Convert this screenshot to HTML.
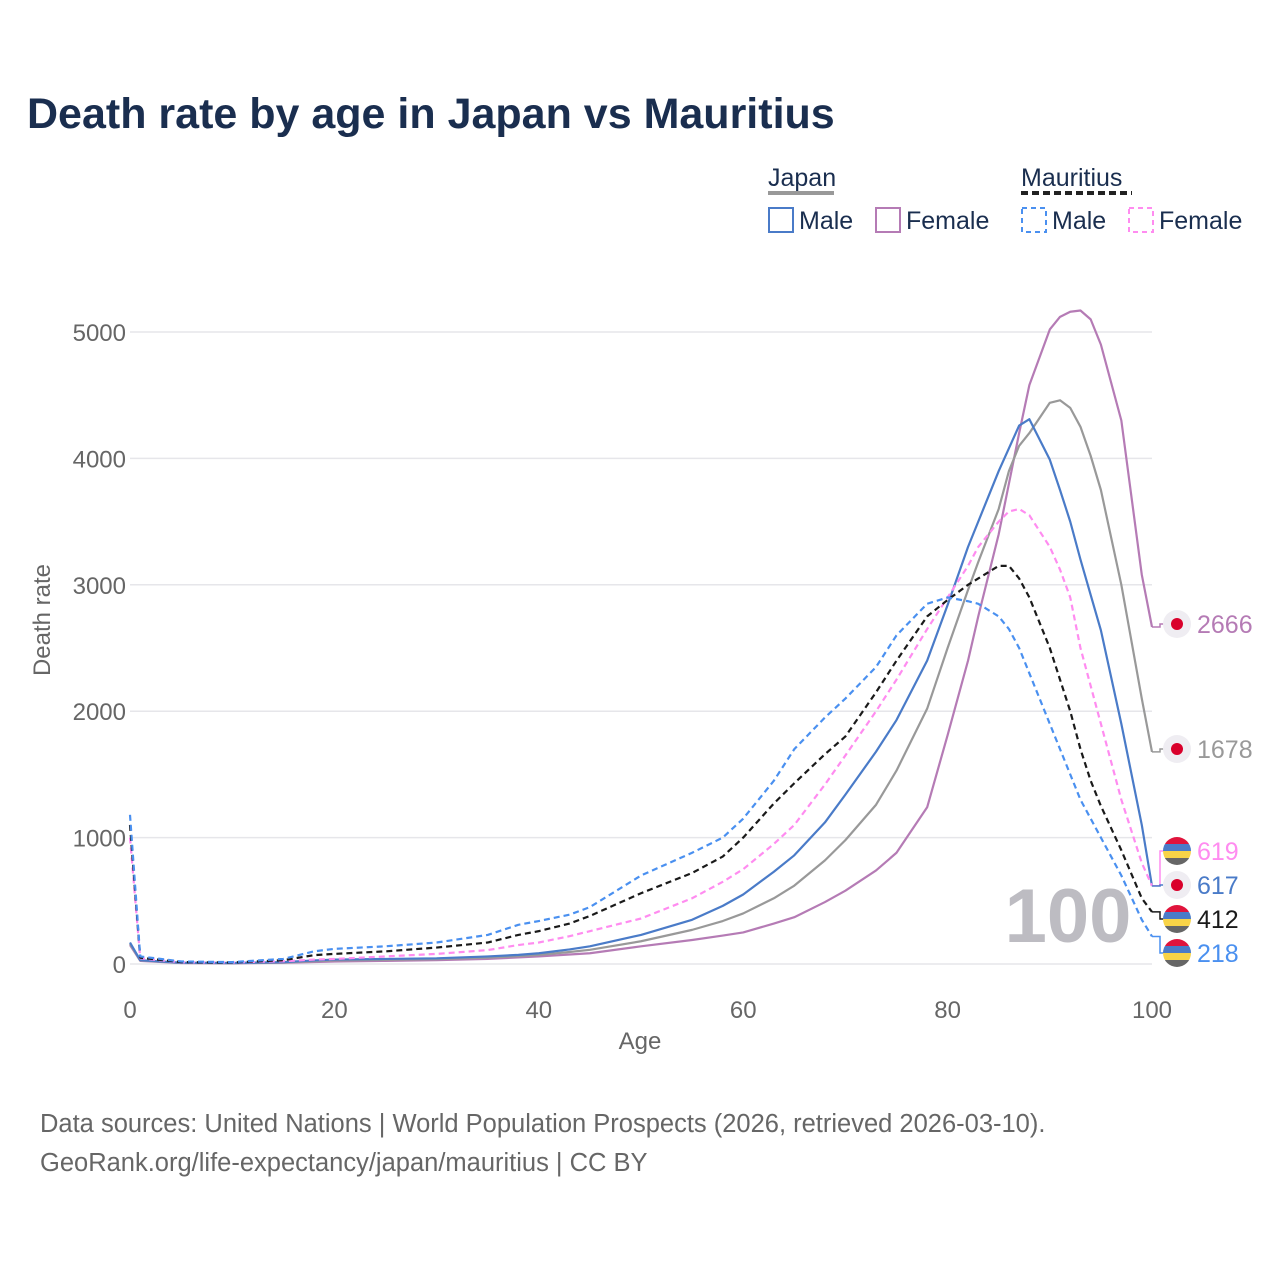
<!DOCTYPE html>
<html><head><meta charset="utf-8">
<style>
body{margin:0;background:#fff;font-family:"Liberation Sans",sans-serif;}
#wrap{position:relative;width:1280px;height:1280px;overflow:hidden;}
.t{position:absolute;white-space:nowrap;}
</style></head>
<body>
<div id="wrap">
<div class="t" style="left:27px;top:90px;font-size:43px;font-weight:bold;color:#1a2e4f;">Death rate by age in Japan vs Mauritius</div>
<svg id="chart" width="1280" height="1280" style="position:absolute;left:0;top:0"></svg>
<div class="t" style="left:40px;top:1105px;font-size:25.5px;color:#666;line-height:39px;">Data sources: United Nations | World Population Prospects (2026, retrieved 2026-03-10).<br>GeoRank.org/life-expectancy/japan/mauritius | CC BY</div>
</div>
<script>
const ages = [0,1,5,10,15,18,20,25,30,35,38,40,43,45,50,55,58,60,63,65,68,70,73,75,78,80,82,83,85,86,87,88,90,91,92,93,94,95,97,99,100];
const japanMale =   [170,30,10,8,15,28,35,40,45,60,72,85,115,140,230,350,460,550,730,860,1120,1340,1680,1930,2400,2840,3300,3500,3900,4080,4260,4310,3990,3750,3500,3200,2920,2640,1900,1100,617];
const japanFemale = [150,25,8,6,10,16,20,25,30,40,52,60,75,85,140,190,225,250,320,370,490,580,740,880,1240,1810,2400,2750,3400,3800,4200,4580,5020,5120,5160,5170,5100,4900,4300,3080,2666];
const japanTotal =  [160,28,9,7,12,22,28,33,38,50,62,72,95,112,180,270,340,400,520,620,820,980,1260,1530,2020,2500,2960,3180,3600,3900,4100,4200,4440,4460,4400,4250,4020,3750,3000,2100,1678];
const mauMale =     [1180,60,20,15,40,100,120,140,170,230,310,340,390,450,700,880,1000,1150,1450,1700,1950,2100,2350,2600,2850,2900,2870,2850,2750,2650,2500,2300,1900,1700,1500,1300,1150,1000,700,350,218];
const mauTotal =    [1100,50,15,12,30,70,80,100,130,170,230,260,320,380,560,720,850,1000,1270,1430,1660,1800,2150,2400,2750,2880,3000,3050,3150,3150,3050,2900,2500,2250,2000,1700,1450,1250,900,520,412];
const mauFemale =   [1000,45,14,12,22,35,40,60,80,110,150,170,220,260,360,520,650,750,950,1100,1420,1650,2000,2250,2650,2900,3150,3300,3500,3580,3600,3550,3300,3120,2900,2500,2200,1900,1300,800,619];
const yTicks = [0,1000,2000,3000,4000,5000];
const xTicks = [0,20,40,60,80,100];
const endLabels = ["2666","1678","619","617","412","218"];

const X = a => 130 + a*10.22;
const Y = v => 964 - v*0.1264;
const svg = document.getElementById('chart');
const NS='http://www.w3.org/2000/svg';
function mk(tag, attrs){const e=document.createElementNS(NS,tag);for(const k in attrs)e.setAttribute(k,attrs[k]);svg.appendChild(e);return e;}

yTicks.forEach(v=>{
  const g=mk('line',{x1:130,x2:1152,y1:Y(v),y2:Y(v),stroke:'#e6e6ea','stroke-width':1.5});
  
  
  const t=mk('text',{x:126,y:Y(v)+9,'text-anchor':'end','font-size':24,fill:'#666','font-family':'Liberation Sans'});
  t.textContent=v;
  
  
});
xTicks.forEach(a=>{
  const t=mk('text',{x:X(a),y:1018,'text-anchor':'middle','font-size':24,fill:'#666','font-family':'Liberation Sans'});
  t.textContent=a;
  
  
});
let t=mk('text',{x:640,y:1049,'text-anchor':'middle','font-size':24,fill:'#666','font-family':'Liberation Sans'});t.textContent='Age';


t=mk('text',{x:0,y:0,'text-anchor':'middle','font-size':24,fill:'#666','font-family':'Liberation Sans',transform:'translate(50,620) rotate(-90)'});t.textContent='Death rate';


t=mk('text',{x:1068,y:942,'text-anchor':'middle','font-size':76,'font-weight':'bold',fill:'#bdbcc2','font-family':'Liberation Sans'});t.textContent='100';



function pathFor(vals){
  return ages.map((a,i)=>(i?'L':'M')+X(a)+','+Y(vals[i])).join(' ');
}
const series=[
 ['japan-female-line',japanFemale,'#b57bb5',null],
 ['japan-total-line',japanTotal,'#999999',null],
 ['japan-male-line',japanMale,'#4a7bc8',null],
 ['mauritius-female-line',mauFemale,'#ff8cf0','6,4'],
 ['mauritius-total-line',mauTotal,'#1a1a1a','6,4'],
 ['mauritius-male-line',mauMale,'#4a90f0','6,4']
];
const labelY=[624,749,851,885,919,953];
const labelSeries=[0,1,3,2,4,5];
const flags=['jp','jp','mu','jp','mu','mu'];
series.forEach(s=>{
  const e=mk('path',{d:pathFor(s[1]),fill:'none',stroke:s[2],'stroke-width':2.2,'stroke-linejoin':'round'});
  if(s[3])e.setAttribute('stroke-dasharray',s[3]);
  
  
});
labelSeries.forEach((si,k)=>{
  const s=series[si];const vy=Y(s[1][s[1].length-1]);const ly=labelY[k];
  const c=mk('polyline',{points:`1152,${vy} 1160,${vy} 1160,${ly} 1166,${ly}`,fill:'none',stroke:s[2],'stroke-width':1.5});
  
  
  if(flags[k]==='jp'){
    const a=mk('circle',{cx:1177,cy:ly,r:14,fill:'#efedf2'});
    
    
    const b=mk('circle',{cx:1177,cy:ly,r:6,fill:'#d9002b'});
    
    
  } else {
    const cols=['#e0143c','#4a7bc8','#f8d347','#666666'];
    const cp=document.createElementNS(NS,'clipPath');cp.setAttribute('id','cc'+k);
    const cc=document.createElementNS(NS,'circle');cc.setAttribute('cx',1177);cc.setAttribute('cy',ly);cc.setAttribute('r',14);
    cp.appendChild(cc);svg.appendChild(cp);
    cols.forEach((col,j)=>{
      const r=mk('rect',{x:1163,y:ly-14+j*7,width:28,height:7,fill:col,'clip-path':'url(#cc'+k+')'});
      
      
    });
  }
  const tx=mk('text',{x:1197,y:ly+9,'font-size':25,fill:s[2],'font-family':'Liberation Sans'});
  tx.textContent=endLabels[k];
  
  
});

function ltext(x,y,str,name){const e=mk('text',{x:x,y:y,'font-size':25,fill:'#1a2e4f','font-family':'Liberation Sans'});e.textContent=str;
 
 }
ltext(768,186,'Japan','legend-japan-title');
let l=mk('line',{x1:768,x2:834,y1:193,y2:193,stroke:'#999','stroke-width':4});


ltext(1021,186,'Mauritius','legend-mauritius-title');
l=mk('line',{x1:1021,x2:1132,y1:193,y2:193,stroke:'#222','stroke-width':4,'stroke-dasharray':'7,4'});


[[769,'#4a7bc8',null,'Male','legend-japan-male'],[876,'#b57bb5',null,'Female','legend-japan-female'],[1022,'#4a90f0','5,4','Male','legend-mauritius-male'],[1129,'#ff8cf0','5,4','Female','legend-mauritius-female']].forEach(it=>{
  const r=mk('rect',{x:it[0],y:208,width:24,height:24,fill:'none',stroke:it[1],'stroke-width':2});
  if(it[2])r.setAttribute('stroke-dasharray',it[2]);
  
  
  ltext(it[0]+30,229,it[3],it[4]+'-label');
});
</script>
</body></html>
